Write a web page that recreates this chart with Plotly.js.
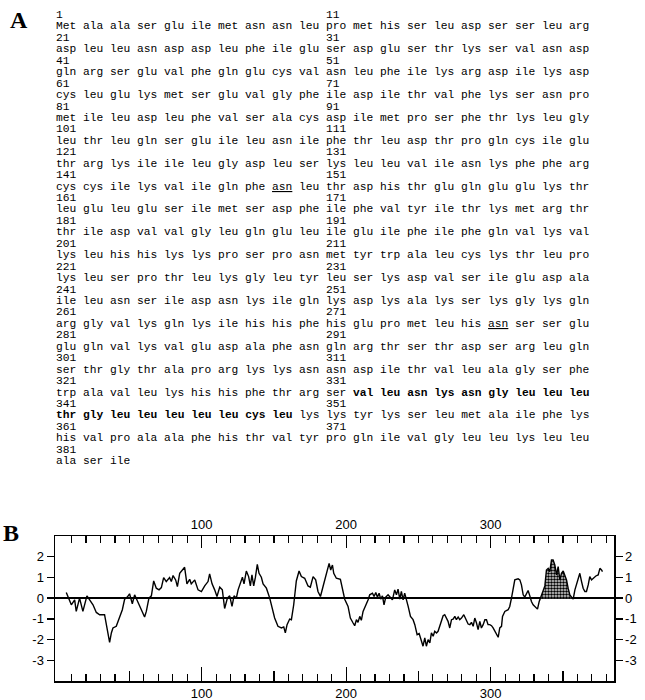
<!DOCTYPE html>
<html><head><meta charset="utf-8">
<script src="https://cdn.plot.ly/plotly-3.0.1.min.js"></script>
<style>html,body{margin:0;padding:0;background:#fff}</style>
</head><body><div id="chart" style="width:645px;height:700px"></div>
<script>
// ---- Panel A: protein sequence (three-letter codes, residues 1..383) ----
const sequence = [
 "Met","ala","ala","ser","glu","ile","met","asn","asn","leu","pro","met","his","ser","leu","asp","ser","ser","leu","arg",
 "asp","leu","leu","asn","asp","asp","leu","phe","ile","glu","ser","asp","glu","ser","thr","lys","ser","val","asn","asp",
 "gln","arg","ser","glu","val","phe","gln","glu","cys","val","asn","leu","phe","ile","lys","arg","asp","ile","lys","asp",
 "cys","leu","glu","lys","met","ser","glu","val","gly","phe","ile","asp","ile","thr","val","phe","lys","ser","asn","pro",
 "met","ile","leu","asp","leu","phe","val","ser","ala","cys","asp","ile","met","pro","ser","phe","thr","lys","leu","gly",
 "leu","thr","leu","gln","ser","glu","ile","leu","asn","ile","phe","thr","leu","asp","thr","pro","gln","cys","ile","glu",
 "thr","arg","lys","ile","ile","leu","gly","asp","leu","ser","lys","leu","leu","val","ile","asn","lys","phe","phe","arg",
 "cys","cys","ile","lys","val","ile","gln","phe","asn","leu","thr","asp","his","thr","glu","gln","glu","glu","lys","thr",
 "leu","glu","leu","glu","ser","ile","met","ser","asp","phe","ile","phe","val","tyr","ile","thr","lys","met","arg","thr",
 "thr","ile","asp","val","val","gly","leu","gln","glu","leu","ile","glu","ile","phe","ile","phe","gln","val","lys","val",
 "lys","leu","his","his","lys","lys","pro","ser","pro","asn","met","tyr","trp","ala","leu","cys","lys","thr","leu","pro",
 "lys","leu","ser","pro","thr","leu","lys","gly","leu","tyr","leu","ser","lys","asp","val","ser","ile","glu","asp","ala",
 "ile","leu","asn","ser","ile","asp","asn","lys","ile","gln","lys","asp","lys","ala","lys","ser","lys","gly","lys","gln",
 "arg","gly","val","lys","gln","lys","ile","his","his","phe","his","glu","pro","met","leu","his","asn","ser","ser","glu",
 "glu","gln","val","lys","val","glu","asp","ala","phe","asn","gln","arg","thr","ser","thr","asp","ser","arg","leu","gln",
 "ser","thr","gly","thr","ala","pro","arg","lys","lys","asn","asn","asp","ile","thr","val","leu","ala","gly","ser","phe",
 "trp","ala","val","leu","lys","his","his","phe","thr","arg","ser","val","leu","asn","lys","asn","gly","leu","leu","leu",
 "thr","gly","leu","leu","leu","leu","leu","cys","leu","lys","lys","tyr","lys","ser","leu","met","ala","ile","phe","lys",
 "his","val","pro","ala","ala","phe","his","thr","val","tyr","pro","gln","ile","val","gly","leu","leu","lys","leu","leu",
 "ala","ser","ile"
];
const underlinedResidues = [149, 277];
const boldFirst = 332, boldLast = 349;

// ---- Panel B: hydropathy profile (residue position, hydropathy value) ----
const hydroX = [6.3,9.8,12.1,13.2,15.5,17.8,20.6,22.5,24.8,27.1,29.4,32.8,34,36.3,37.5,38.6,40.9,43.2,45.1,46.7,
 48.5,50.1,52,53.6,55.9,58.2,60.5,61.7,63.5,65.2,66.8,68.6,70.5,72.1,73.7,75.5,77.8,79,80.2,82,
 83.2,84.8,87.1,88.2,89.8,91.7,92.8,95.2,97.5,99.8,102.1,104.4,105.5,107.2,109,110.6,112.5,114.3,115.9,117.8,
 119.4,121,122.4,124,125.2,126.3,128.2,129.3,130.9,132.5,133.7,134.8,136,137.2,138.5,139.7,141.3,142.5,144.8,147.1,
 148.9,150.5,152.8,155.2,156.8,157.9,159.1,160.9,162.1,163.7,165.5,167.4,169,171.3,173.6,175.2,177.1,178.9,180.5,182.2,
 184,185.9,188.2,189.3,190.5,191.4,193.2,196,197.4,199,201.3,202.9,204.8,205.9,207.1,208.2,209.4,210.5,211.7,213.5,
 215.2,216.3,218.2,219.3,220.5,221.6,222.8,223.9,225.1,226.2,227.4,229,230.6,232,233.6,234.8,235.9,237.1,238.2,239.4,
 240.5,241.7,242.9,244.5,246.3,247.5,249.1,250.5,252.1,253.2,254.4,255.5,256.7,257.9,259,260.2,261.3,262.5,263.6,265.2,
 267.1,268.2,269.4,270.5,271.7,272.9,274,275.2,276.3,277.5,278.6,279.8,281.4,282.8,284.4,285.6,286.7,287.9,289,290.2,
 291.3,292.5,293.6,294.8,296,297.1,298.2,299.4,300.6,301.7,303.6,305.2,306.3,307.5,308.2,309.8,312.1,313.2,314.4,315.6,
 316.7,319,320.2,321.3,322.5,323.6,324.8,325.9,327.1,328.2,329.4,331.3,332.4,333.6,334.7,336.3,337.5,338.6,339.8,340.9,
 342.1,343.2,344.4,345.6,346.7,347.9,349,350.2,351.3,352.5,353.6,354.8,356,357.1,358.3,359.4,360.6,361.7,362.9,364,
 365.2,366.3,367.5,368.6,369.8,370.9,372.8,374.4,375.6,376.7,377.4];
const hydroY = [0.27,-0.32,-0.08,-0.64,0,-0.64,0.11,-0.11,-0.32,-0.69,-0.8,-0.8,-1.2,-2.13,-1.68,-1.44,-1.36,-0.88,-0.56,-0.05,
 0.05,0.21,-0.27,0.16,-0.21,-0.53,-0.91,-0.64,0,0.11,0.83,0.48,0.4,0.51,0.99,0.8,0.99,0.8,1.09,0.88,
 0.56,1.2,1.39,1.49,0.69,0.91,0.69,0.88,0.4,0.32,0.59,0.8,1.17,0.69,0.4,0.08,0.53,0.4,-0.5,0,
 0.11,-0.4,0.11,0,0.4,0.59,1.01,0.69,1.31,1.04,0.59,1.12,0.59,1.01,1.63,1.2,1.01,0.69,0.48,0,
 -0.5,-0.96,-1.36,-1.44,-1.39,-1.68,-1.28,-1.01,-1.04,-0.32,0.83,1.31,1.04,0.96,0.59,0.53,1.04,0.88,0.32,0.08,
 0.56,1.12,1.68,1.36,1.6,1.2,0.96,0.91,0.48,-0.05,-0.4,-0.96,-1.2,-1.33,-1.04,-1.17,-0.88,-1.07,-0.64,-0.37,
 -0.08,0.16,0.24,0.08,0.27,0.05,0.24,-0.05,0.11,-0.32,0.05,0.16,0,-0.08,0.4,0.16,0.43,-0.05,0.32,-0.08,
 0.24,-0.05,-0.4,-0.88,-1.04,-1.28,-1.76,-1.71,-2.16,-2.32,-1.92,-2.32,-2,-2.16,-1.68,-1.84,-1.6,-1.68,-1.6,-1.2,
 -0.85,-0.8,-0.96,-1.12,-1.44,-1.04,-1.01,-0.88,-1.04,-0.91,-1.04,-0.96,-0.8,-1.04,-1.25,-1.28,-1.17,-1.36,-0.96,-1.2,
 -1.52,-1.12,-1.44,-1.28,-1.04,-1.04,-1.28,-1.28,-1.33,-1.44,-1.68,-1.89,-1.44,-1.36,-0.88,-0.64,-0.56,-0.4,0,0.48,
 0.88,0.93,0.88,0.64,0.16,0.05,0.24,0.37,0.11,-0.16,-0.32,-0.48,-0.53,-0.16,0.05,0.32,0.59,1.36,1.44,1.28,
 1.84,1.84,1.6,1.12,1.52,0.88,1.2,1.31,1.12,0.88,0.48,0.16,0.05,-0.05,0.4,0.69,0.88,1.2,0.8,0.48,
 0.32,0.32,0.64,1.04,0.88,0.96,1.07,1.12,1.44,1.36,1.28];
const shadeFrom = 334.7, shadeTo = 356.0;

const xMajorTicks = [100, 200, 300];
const xMidTicks = [50, 150, 250, 350];
const yTicks = [-3, -2, -1, 0, 1, 2];
const yTickText = ["-3", "-2", "-1", "0", "1", "2"];

// ---- shaded segment (subset of the profile above zero) ----
const shadeX = [], shadeY = [];
for (let i = 0; i < hydroX.length; i++) {
  if (hydroX[i] >= shadeFrom && hydroX[i] <= shadeTo) { shadeX.push(hydroX[i]); shadeY.push(Math.max(0, hydroY[i])); }
}
shadeX.unshift(shadeX[0]); shadeY.unshift(0);
shadeX.push(shadeX[shadeX.length - 1]); shadeY.push(0);

// ---- geometry ----
const W = 645, H = 700;
const M = {l: 55, r: 31, t: 536, b: 19};
const pw = W - M.l - M.r, ph = H - M.t - M.b;
const px2x = p => (p - M.l) / pw;
const py2y = p => (H - M.b - p) / ph;

const NB = "\u00A0";
function word(i) {
  let w = sequence[i - 1];
  if (underlinedResidues.includes(i)) w = '<span style="text-decoration:underline">' + w + '</span>';
  if (i >= boldFirst && i <= boldLast) w = '<b>' + w + '</b>';
  return w;
}
const annotations = [];
const monoFont = {family: "Liberation Mono, Courier New, monospace", size: 11.25, color: "#000"};
const lineTop = 15, linePitch = 11.44;
const nRows = Math.ceil(sequence.length / 20);
for (let r = 0; r < nRows; r++) {
  const s = 1 + 20 * r;
  let num = String(s);
  if (s + 10 <= sequence.length) num = num + NB.repeat(40 - num.length) + String(s + 10);
  const words = [];
  for (let i = s; i <= Math.min(s + 19, sequence.length); i++) words.push(word(i));
  const lines = [num, words.join(NB)];
  lines.forEach((t, k) => {
    annotations.push({
      xref: "paper", yref: "paper", x: px2x(55), y: py2y(lineTop + linePitch * (2 * r + k)),
      xanchor: "left", yanchor: "middle", align: "left", showarrow: false, borderpad: 0,
      text: t, font: monoFont
    });
  });
}
const panelFont = {family: "Liberation Serif, Times New Roman, serif", size: 24, color: "#000"};
annotations.push({xref: "paper", yref: "paper", x: px2x(9), y: py2y(20), xanchor: "left", yanchor: "middle",
  showarrow: false, borderpad: 0, text: "<b>A</b>", font: panelFont});
annotations.push({xref: "paper", yref: "paper", x: px2x(2), y: py2y(533), xanchor: "left", yanchor: "middle",
  showarrow: false, borderpad: 0, text: "<b>B</b>", font: panelFont});

const minorBottom = [], minorTop = [];
for (let v = 10; v <= 380; v += 10) {
  if (v % 50 !== 0) minorBottom.push(v);
  if (v % 100 !== 0) minorTop.push(v);
}

const xr = [-1.5, -1.5 + pw / 1.445];
const yr = [-4, 3];
const tickFont = {family: "Liberation Sans, Arial, sans-serif", size: 13, color: "#000"};

const traces = [
  {x: shadeX, y: shadeY, type: "scatter", mode: "lines", fill: "tozeroy", line: {width: 0, color: "rgba(0,0,0,0)"},
   fillcolor: "#555", fillpattern: {shape: ".", fgcolor: "#000", bgcolor: "#ddd", size: 3, solidity: 0.55},
   hoverinfo: "skip", showlegend: false},
  {x: hydroX, y: hydroY, type: "scatter", mode: "lines", line: {color: "#000", width: 1.4}, showlegend: false},
  {x: [null], y: [null], xaxis: "x2", yaxis: "y", type: "scatter", showlegend: false, hoverinfo: "skip"},
  {x: [null], y: [null], xaxis: "x3", yaxis: "y", type: "scatter", showlegend: false, hoverinfo: "skip"},
  {x: [null], y: [null], xaxis: "x", yaxis: "y2", type: "scatter", showlegend: false, hoverinfo: "skip"}
];

const axLine = {showline: true, linecolor: "#000", linewidth: 1.5, showgrid: false, zeroline: false, tickcolor: "#000", tickwidth: 1.3, tickfont: tickFont};
const layout = {
  width: W, height: H, margin: M, paper_bgcolor: "#fff", plot_bgcolor: "#fff", showlegend: false,
  font: tickFont,
  xaxis: Object.assign({}, axLine, {range: xr, side: "bottom", ticks: "inside", ticklen: 14,
    tickmode: "array", tickvals: xMajorTicks, ticktext: xMajorTicks.map(String),
    minor: {tickmode: "array", tickvals: minorBottom, ticks: "inside", ticklen: 7, tickwidth: 1.2, tickcolor: "#000", showgrid: false}}),
  xaxis2: Object.assign({}, axLine, {range: xr, overlaying: "x", side: "top", anchor: "y", ticks: "inside", ticklen: 12,
    tickmode: "array", tickvals: xMajorTicks, ticktext: xMajorTicks.map(String),
    minor: {tickmode: "array", tickvals: minorTop, ticks: "inside", ticklen: 7, tickwidth: 1.2, tickcolor: "#000", showgrid: false}}),
  xaxis3: {range: xr, overlaying: "x", side: "bottom", anchor: "y", showline: false, showgrid: false, zeroline: false,
    ticks: "inside", ticklen: 10, tickwidth: 1.2, tickcolor: "#000", tickmode: "array", tickvals: xMidTicks, showticklabels: false},
  yaxis: Object.assign({}, axLine, {range: yr, ticks: "outside", ticklen: 7, tickmode: "array", tickvals: yTicks, ticktext: yTickText,
    zeroline: true, zerolinecolor: "#000", zerolinewidth: 1.5}),
  yaxis2: Object.assign({}, axLine, {range: yr, overlaying: "y", side: "right", anchor: "x", ticks: "outside", ticklen: 7,
    tickmode: "array", tickvals: yTicks, ticktext: yTickText}),
  annotations: annotations
};
Plotly.newPlot("chart", traces, layout, {staticPlot: true, displayModeBar: false});
</script>
</body></html>
